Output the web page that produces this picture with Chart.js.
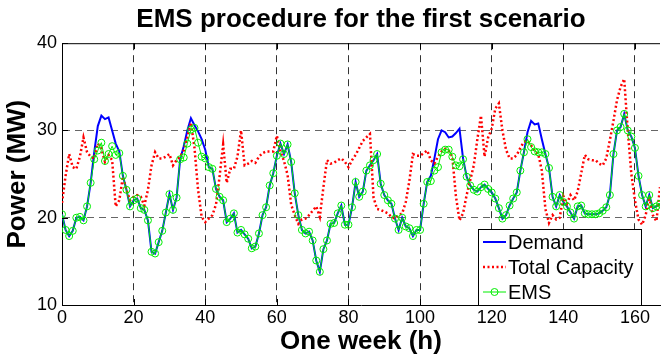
<!DOCTYPE html>
<html>
<head>
<meta charset="utf-8">
<title>EMS procedure for the first scenario</title>
<script src="https://cdn.jsdelivr.net/npm/chart.js@4.4.1/dist/chart.umd.min.js"></script>
<style>
  html, body { margin: 0; padding: 0; background: #fff; }
  canvas { display: block; }
</style>
</head>
<body>
<canvas id="emsChart" width="665" height="360"></canvas>
<script>
// hourly steps over one week
const hours = Array.from({ length: 168 }, (_, i) => i);

const demand = [
  20.4, 18.6, 17.9, 18.5, 20.0, 20.1, 19.7, 21.3, 24.0, 27.5, 30.5, 31.7,
  31.3, 31.5, 30.0, 28.5, 27.6, 24.8, 23.2, 21.3, 22.0, 22.2, 21.1, 20.9,
  19.7, 16.1, 15.9, 17.2, 18.5, 20.6, 22.7, 20.9, 22.3, 26.7, 28.2, 30.0,
  31.4, 30.6, 29.9, 29.0, 27.8, 25.8, 25.6, 23.3, 22.4, 22.0, 19.5, 19.9,
  20.5, 18.3, 18.6, 18.1, 17.6, 16.5, 16.7, 18.2, 20.3, 21.2, 23.7, 25.1,
  27.1, 28.5, 27.3, 28.4, 26.4, 22.8, 20.3, 18.6, 18.2, 18.4, 17.4, 15.1,
  13.8, 16.4, 17.4, 19.3, 19.4, 20.5, 21.4, 19.2, 19.2, 21.2, 24.1, 22.4,
  23.0, 25.4, 26.0, 26.6, 27.3, 23.9, 22.6, 22.0, 21.6, 19.9, 18.6, 20.0,
  19.0, 18.8, 17.9, 18.6, 18.6, 21.6, 24.1, 24.8, 26.8, 29.0, 30.0, 29.8,
  29.2, 29.3, 29.7, 30.2, 26.8, 24.7, 23.7, 23.2, 23.0, 23.5, 23.8, 23.3,
  22.9, 22.2, 21.1, 19.9, 20.3, 21.4, 22.2, 22.9, 25.4, 27.5, 29.8, 31.1,
  30.7, 30.8, 29.0, 27.3, 25.7, 22.4, 21.3, 22.6, 21.8, 21.3, 20.6, 19.9,
  21.3, 21.4, 20.5, 20.4, 20.4, 20.4, 20.5, 20.8, 21.2, 22.6, 27.3, 30.0,
  30.4, 31.9, 30.0, 29.3, 28.0, 24.8, 22.6, 21.3, 22.6, 21.1, 21.3, 21.6
];

const totalCapacity = [
  21.7, 24.8, 27.3, 25.8, 25.6, 27.0, 29.2, 27.5, 27.0, 26.8, 28.5, 27.9,
  26.4, 27.2, 26.6, 21.3, 22.0, 24.7, 23.2, 22.0, 22.4, 22.6, 22.4, 21.4,
  23.2, 26.0, 27.5, 26.8, 26.8, 27.0, 27.3, 26.0, 26.6, 27.0, 27.7, 29.2,
  30.9, 28.0, 23.2, 20.1, 19.5, 19.9, 20.3, 21.5, 24.7, 28.4, 24.0, 25.6,
  25.6, 27.0, 30.0, 26.0, 26.2, 26.5, 26.3, 27.0, 27.4, 27.6, 27.6, 27.6,
  29.4, 27.6, 26.5, 24.9, 21.5, 20.3, 19.3, 19.8, 19.9, 20.3, 20.8, 21.3,
  20.1, 23.5, 26.6, 26.2, 26.3, 26.6, 26.8, 26.4, 25.8, 26.6, 27.2, 28.0,
  28.8, 29.2, 29.6, 22.3, 21.0, 20.9, 20.7, 20.5, 20.1, 19.9, 20.3, 20.5,
  21.8, 24.2, 27.3, 27.1, 27.1, 27.4, 27.7, 26.6, 26.2, 27.0, 27.6, 27.9,
  27.7, 27.0, 22.5, 19.7, 20.5, 22.6, 24.3, 26.0, 29.0, 31.7, 27.0, 29.2,
  30.2, 32.5, 33.1, 30.0, 27.8, 26.8, 26.8, 27.2, 28.0, 28.7, 28.8, 28.3,
  27.6, 27.3, 25.4, 21.0, 19.4, 20.3, 19.8, 20.0, 22.5, 21.6, 22.6, 22.0,
  23.0, 25.1, 27.2, 26.7, 26.6, 26.6, 26.2, 26.0, 26.8, 28.9, 31.1, 33.5,
  35.0, 35.9, 30.0, 25.0, 22.0, 19.8, 19.2, 20.3, 22.4, 20.3, 19.6, 23.5
];

const ems = [
  20.4, 18.6, 17.9, 18.5, 20.0, 20.1, 19.7, 21.3, 24.0, 26.7, 27.7, 28.6,
  26.5, 27.3, 28.2, 27.2, 27.4, 24.8, 23.2, 21.3, 22.0, 22.2, 21.1, 20.9,
  19.7, 16.1, 15.9, 17.2, 18.5, 20.6, 22.7, 20.9, 22.3, 26.7, 26.9, 28.5,
  30.1, 30.3, 28.6, 27.0, 26.8, 25.8, 25.6, 23.3, 22.4, 22.0, 19.5, 19.9,
  20.5, 18.3, 18.6, 18.1, 17.6, 16.5, 16.7, 18.2, 20.3, 21.2, 23.7, 25.1,
  27.1, 28.5, 27.3, 28.4, 26.4, 22.8, 20.3, 18.6, 18.2, 18.4, 17.4, 15.1,
  13.8, 16.4, 17.4, 19.3, 19.4, 20.5, 21.4, 19.2, 19.2, 21.2, 24.1, 22.4,
  23.0, 25.4, 26.0, 26.6, 27.3, 23.9, 22.6, 22.0, 21.6, 19.9, 18.6, 20.0,
  19.0, 18.8, 17.9, 18.6, 18.6, 21.6, 24.1, 24.2, 25.4, 25.8, 27.5, 27.8,
  27.8, 27.0, 26.0, 25.9, 26.7, 24.7, 23.7, 23.2, 23.0, 23.5, 23.8, 23.3,
  22.9, 22.2, 21.1, 19.9, 20.3, 21.4, 22.2, 22.9, 25.4, 27.5, 29.0, 28.1,
  27.6, 27.5, 27.5, 27.3, 25.7, 22.4, 21.3, 22.6, 21.8, 21.3, 20.6, 19.9,
  21.3, 21.4, 20.5, 20.4, 20.4, 20.4, 20.5, 20.8, 21.2, 22.6, 27.3, 30.0,
  30.4, 31.9, 30.0, 29.3, 28.0, 24.8, 22.6, 21.3, 22.6, 21.1, 21.3, 21.6
];

const xTicks = [0, 20, 40, 60, 80, 100, 120, 140, 160];
const yTicks = [10, 20, 30, 40];

const FONT = '"Liberation Sans", Arial, Helvetica, sans-serif';
Chart.defaults.font.family = FONT;
Chart.defaults.color = '#000';

// top frame, inward tick marks (matlab style) and the legend box
const frameAndLegend = {
    id: 'frameAndLegend',
    afterDraw(chart) {
        const { ctx, chartArea: a, scales: { x, y } } = chart;
        ctx.save();
        ctx.strokeStyle = '#000';
        ctx.lineWidth = 1;
        ctx.setLineDash([]);
        ctx.beginPath();
        ctx.moveTo(a.left, a.top + 0.5);
        ctx.lineTo(a.right, a.top + 0.5);
        xTicks.forEach(v => {
            const px = Math.round(x.getPixelForValue(v)) + 0.5;
            ctx.moveTo(px, a.bottom);
            ctx.lineTo(px, a.bottom - 6);
            ctx.moveTo(px, a.top);
            ctx.lineTo(px, a.top + 6);
        });
        yTicks.forEach(v => {
            const py = Math.round(y.getPixelForValue(v)) + 0.5;
            ctx.moveTo(a.left, py);
            ctx.lineTo(a.left + 6, py);
        });
        ctx.stroke();

        // legend
        const box = { left: 478.5, top: 229.5, width: 163, height: 76 };
        ctx.fillStyle = '#fff';
        ctx.fillRect(box.left, box.top, box.width, box.height);
        ctx.strokeRect(box.left, box.top, box.width, box.height);
        ctx.font = '20px ' + FONT;
        ctx.textBaseline = 'middle';
        ctx.textAlign = 'left';
        chart.data.datasets.forEach((ds, i) => {
            const cy = 242 + i * 25;
            ctx.save();
            ctx.strokeStyle = ds.borderColor;
            ctx.lineWidth = ds.borderWidth;
            ctx.setLineDash(ds.borderDash || []);
            ctx.beginPath();
            ctx.moveTo(483, cy);
            ctx.lineTo(506, cy);
            ctx.stroke();
            if (ds.pointRadius) {
                ctx.setLineDash([]);
                ctx.lineWidth = ds.pointBorderWidth;
                ctx.strokeStyle = ds.pointBorderColor;
                ctx.beginPath();
                ctx.arc(494.5, cy, ds.pointRadius, 0, Math.PI * 2);
                ctx.stroke();
            }
            ctx.restore();
            ctx.fillStyle = '#000';
            ctx.fillText(ds.label, 508, cy + 1);
        });
        ctx.restore();
    }
};

const ctx = document.getElementById('emsChart').getContext('2d');
new Chart(ctx, {
    type: 'line',
    data: {
        labels: hours,
        datasets: [
            {
                label: 'Demand',
                data: demand,
                borderColor: '#0000ff',
                borderWidth: 2,
                pointRadius: 0,
                order: 3
            },
            {
                label: 'Total Capacity',
                data: totalCapacity,
                borderColor: '#ff0000',
                borderWidth: 2.5,
                borderDash: [2, 2.5],
                pointRadius: 0,
                order: 2
            },
            {
                label: 'EMS',
                data: ems,
                borderColor: '#00ee00',
                borderWidth: 1,
                pointRadius: 3.5,
                pointStyle: 'circle',
                pointBackgroundColor: 'rgba(0,0,0,0)',
                pointBorderColor: '#00ee00',
                pointBorderWidth: 1,
                order: 1
            }
        ]
    },
    options: {
        responsive: false,
        devicePixelRatio: 1,
        animation: false,
        events: [],
        layout: { padding: { left: 0, right: 0, top: 0, bottom: 0 } },
        plugins: {
            legend: { display: false },
            tooltip: { enabled: false },
            title: {
                display: true,
                text: 'EMS procedure for the first scenario',
                fullSize: false,
                font: { size: 26, weight: 'bold' },
                padding: { top: 4, bottom: 8 }
            }
        },
        scales: {
            x: {
                type: 'linear',
                min: 0,
                max: 167,
                afterFit: scale => { scale.height = 55; },
                afterBuildTicks: scale => { scale.ticks = xTicks.map(v => ({ value: v })); },
                ticks: { includeBounds: false, maxRotation: 0, padding: 2, font: { size: 18 } },
                grid: {
                    drawTicks: false,
                    lineWidth: 1,
                    color: c => (c.tick && c.tick.value > 0 ? '#333' : 'rgba(0,0,0,0)')
                },
                border: { display: true, color: '#000', width: 1, dash: [7, 5] },
                title: {
                    display: true,
                    text: 'One week (h)',
                    font: { size: 26, weight: 'bold' },
                    padding: { top: 0, bottom: 3 }
                }
            },
            y: {
                min: 10,
                max: 40,
                afterFit: scale => { scale.width = 62; },
                afterBuildTicks: scale => { scale.ticks = yTicks.map(v => ({ value: v })); },
                ticks: { padding: 5, font: { size: 18 } },
                grid: {
                    drawTicks: false,
                    lineWidth: 1,
                    color: c => (c.tick && c.tick.value > 10 && c.tick.value < 40 ? '#666' : 'rgba(0,0,0,0)')
                },
                border: { display: true, color: '#000', width: 1, dash: [7, 5] },
                title: {
                    display: true,
                    text: 'Power (MW)',
                    font: { size: 26, weight: 'bold' },
                    padding: { top: 2, bottom: 0 }
                }
            }
        }
    },
    plugins: [frameAndLegend]
});
</script>
</body>
</html>
